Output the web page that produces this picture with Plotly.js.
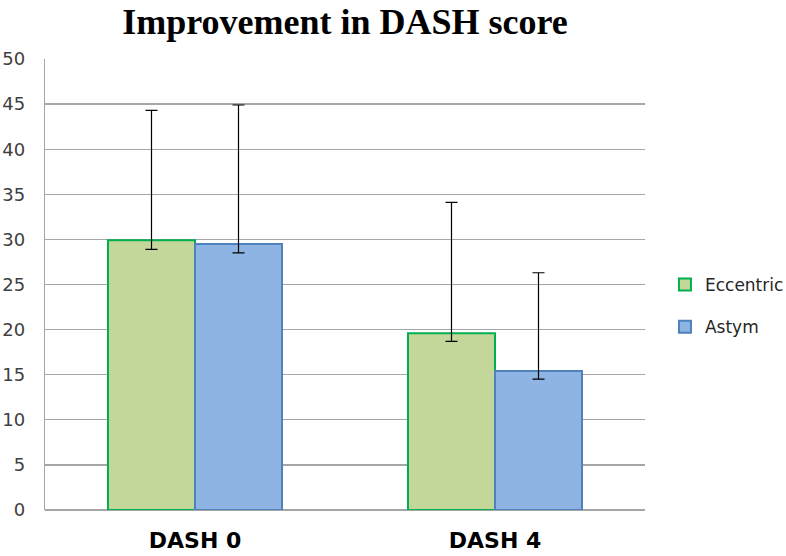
<!DOCTYPE html>
<html>
<head>
<meta charset="utf-8">
<script src="https://cdn.plot.ly/plotly-3.0.1.min.js"></script>
<style>html,body{margin:0;padding:0;background:#fff;}#chart{width:786px;height:556px;}</style>
</head>
<body>
<div id="chart"></div>
<script>
const categories = ["DASH 0", "DASH 4"];
const eccentricValues = [29.9, 19.6];
const eccentricErrPlus = [14.4, 14.5];
const eccentricErrMinus = [1.0, 0.9];
const astymValues = [29.5, 15.4];
const astymErrPlus = [15.4, 10.9];
const astymErrMinus = [1.0, 0.9];
const yTicks = [0, 5, 10, 15, 20, 25, 30, 35, 40, 45, 50];

const errStyle = {color: "#000000", thickness: 1.2, width: 6};

const traces = [
  {
    type: "bar", name: "Eccentric", x: categories, y: eccentricValues,
    legendgroup: "a",
    marker: {color: "#c4d79b", line: {color: "#00b050", width: 2}},
    error_y: Object.assign({type: "data", symmetric: false, array: eccentricErrPlus, arrayminus: eccentricErrMinus}, errStyle)
  },
  {
    type: "bar", name: "Astym", x: categories, y: astymValues,
    legendgroup: "b",
    marker: {color: "#8db4e2", line: {color: "#4f81bd", width: 2}},
    error_y: Object.assign({type: "data", symmetric: false, array: astymErrPlus, arrayminus: astymErrMinus}, errStyle)
  }
];

const layout = {
  width: 786, height: 556,
  margin: {l: 45, r: 141, t: 59, b: 46, pad: 0, autoexpand: false},
  paper_bgcolor: "#ffffff", plot_bgcolor: "#ffffff",
  title: {
    text: "<b>Improvement in DASH score</b>",
    font: {family: "Liberation Serif, Times New Roman, serif", size: 36, color: "#000000"},
    x: 0.5, xref: "paper", xanchor: "center",
    y: 0.962, yanchor: "middle"
  },
  barmode: "group", bargap: 0.42, bargroupgap: 0,
  xaxis: {
    type: "category",
    tickfont: {family: "DejaVu Sans, Arial, sans-serif", size: 22, color: "#000000", weight: "bold"},
    showline: false, showgrid: false, zeroline: false, ticks: "",
    ticklabelstandoff: 15
  },
  yaxis: {
    range: [0, 50], tickvals: yTicks, ticktext: yTicks.map(String),
    tickfont: {family: "DejaVu Sans, Arial, sans-serif", size: 18, color: "#404040"},
    showgrid: true, gridcolor: "#a6a6a6", gridwidth: 1.3,
    showline: true, linecolor: "#a6a6a6", linewidth: 1.3,
    zeroline: true, zerolinecolor: "#a6a6a6", zerolinewidth: 1.3,
    ticks: "", ticklabelstandoff: 15
  },
  showlegend: true,
  legend: {
    xref: "container", yref: "container",
    x: 0.846, xanchor: "left", y: 0.4496, yanchor: "middle",
    font: {family: "DejaVu Sans, Arial, sans-serif", size: 17, color: "#262626"},
    traceorder: "grouped", tracegroupgap: 17,
    itemwidth: 30, bgcolor: "rgba(0,0,0,0)"
  }
};

Plotly.newPlot("chart", traces, layout, {displayModeBar: false, staticPlot: true});
</script>
</body>
</html>
